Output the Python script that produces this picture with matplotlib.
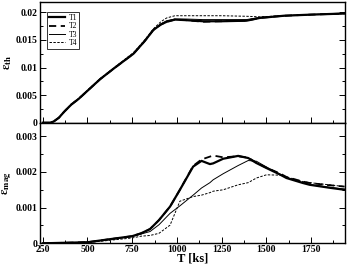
import matplotlib
matplotlib.use("Agg")
import matplotlib.pyplot as plt
from matplotlib.ticker import MultipleLocator

plt.rcParams['font.family'] = ['Liberation Serif', 'DejaVu Serif']
plt.rcParams['mathtext.fontset'] = 'stix'

# ---- upper panel: epsilon_th ----
T_th = [250, 290, 310, 340, 370, 410, 450, 571, 650, 757, 820, 868, 910, 943, 989, 1050, 1146, 1250, 1390, 1464, 1600, 1750, 1938]
th_T1 = [0.0, 0.0, 0.0002, 0.0009, 0.0020, 0.0033, 0.0043, 0.0079, 0.0099, 0.0125, 0.0148, 0.0168, 0.0178, 0.0183, 0.0187, 0.0186, 0.0184, 0.0184, 0.0185, 0.0190, 0.0194, 0.0196, 0.0198]
th_T2 = [0.0, 0.0, 0.0002, 0.0009, 0.0020, 0.0033, 0.0043, 0.0079, 0.0099, 0.0125, 0.0148, 0.0168, 0.0178, 0.0183, 0.0187, 0.0186, 0.0183, 0.0184, 0.0185, 0.0190, 0.0194, 0.0196, 0.0198]
th_T3 = [0.0, 0.0, 0.0002, 0.0009, 0.0020, 0.0033, 0.0043, 0.0079, 0.0099, 0.0125, 0.0148, 0.0168, 0.0179, 0.0185, 0.0188, 0.0188, 0.0187, 0.0187, 0.0187, 0.0191, 0.0194, 0.0196, 0.0198]
th_T4 = [0.0, 0.0, 0.0002, 0.0009, 0.0021, 0.0034, 0.0044, 0.0080, 0.0100, 0.0127, 0.0150, 0.0170, 0.0183, 0.0190, 0.0194, 0.0194, 0.0194, 0.0194, 0.0193, 0.0192, 0.0194, 0.0196, 0.0198]

# ---- lower panel: epsilon_mag ----
T_mag = [250, 500, 750, 800, 850, 900, 962, 1017, 1091, 1138, 1185, 1203, 1259, 1343, 1399, 1445, 1501, 1576, 1613, 1705, 1743, 1850, 1938]
mag_T1 = [0.0, 0.00003, 0.00020, 0.00028, 0.00040, 0.00065, 0.00103, 0.00150, 0.00215, 0.00231, 0.00222, 0.00224, 0.00237, 0.00245, 0.00239, 0.00225, 0.00211, 0.00193, 0.00183, 0.00169, 0.00164, 0.00156, 0.00150]
mag_T2 = [0.0, 0.00003, 0.00020, 0.00028, 0.00040, 0.00065, 0.00103, 0.00150, 0.00217, 0.00235, 0.00243, 0.00246, 0.00241, 0.00244, 0.00240, 0.00226, 0.00212, 0.00196, 0.00186, 0.00173, 0.00169, 0.00163, 0.00159]
mag_T3 = [0.0, 0.00003, 0.00019, 0.00026, 0.00033, 0.00052, 0.00084, 0.00105, 0.00135, 0.00155, 0.00170, 0.00178, 0.00195, 0.00218, 0.00232, 0.00230, 0.00214, 0.00194, 0.00184, 0.00170, 0.00165, 0.00157, 0.00152]
mag_T4 = [0.0, 0.00002, 0.00015, 0.00020, 0.00022, 0.00028, 0.00051, 0.00118, 0.00131, 0.00135, 0.00142, 0.00146, 0.00150, 0.00164, 0.00170, 0.00183, 0.00192, 0.00191, 0.00186, 0.00173, 0.00170, 0.00164, 0.00159]

labels = ['T1', 'T2', 'T3', 'T4']
styles = [dict(ls='-', lw=1.6), dict(ls=(0, (4, 2.5)), lw=1.3), dict(ls='-', lw=0.7), dict(ls=(0, (2.5, 1.5)), lw=0.7)]

fig = plt.figure(figsize=(3.47, 2.66), dpi=100)
ax1 = fig.add_axes([0.114, 0.5387, 0.880, 0.454])
ax2 = fig.add_axes([0.114, 0.0853, 0.880, 0.4534], sharex=ax1)

for y, lab, st in zip([th_T1, th_T2, th_T3, th_T4], labels, styles):
    ax1.plot(T_th, y, color='black', label=lab, **st)
for y, lab, st in zip([mag_T1, mag_T2, mag_T3, mag_T4], labels, styles):
    ax2.plot(T_mag, y, color='black', label=lab, **st)

ax1.set_xlim(232, 1940)
ax1.set_ylim(0, 0.0219)
ax2.set_ylim(0, 0.00338)

for ax in (ax1, ax2):
    ax.xaxis.set_major_locator(MultipleLocator(250))
    ax.xaxis.set_minor_locator(MultipleLocator(125))
    ax.tick_params(which='both', direction='in', right=True, top=False, labelsize=7, width=0.7, pad=1.5)
    ax.tick_params(which='major', length=4)
    ax.tick_params(which='minor', length=2)
    for s in ax.spines.values():
        s.set_linewidth(1.0)

ax1.yaxis.set_minor_locator(MultipleLocator(0.0025))
ax2.yaxis.set_minor_locator(MultipleLocator(0.0005))
ax1.set_yticks([0, 0.005, 0.01, 0.015, 0.02])
ax1.set_yticklabels(['0', '0.005', '0.01', '0.015', '0.02'], fontweight='bold', fontsize=7)
ax2.set_yticks([0, 0.001, 0.002, 0.003])
ax2.set_yticklabels(['0', '0.001', '0.002', '0.003'], fontweight='bold', fontsize=7)
plt.setp(ax1.get_xticklabels(), visible=False)
ax2.set_xticks([250, 500, 750, 1000, 1250, 1500, 1750])
ax2.set_xticklabels(['250', '500', '750', '1000', '1250', '1500', '1750'], fontweight='bold', fontsize=7)
ax2.tick_params(axis='x', pad=1)

ax1.set_ylabel(r'$\mathbf{\epsilon}_{\mathbf{th}}$', fontsize=9)
ax2.set_ylabel(r'$\mathbf{\epsilon}_{\mathbf{mag}}$', fontsize=9)
ax1.yaxis.set_label_coords(-0.085, 0.5)
ax2.yaxis.set_label_coords(-0.085, 0.5)
ax2.set_xlabel('T [ks]', fontweight='bold', fontsize=9, labelpad=0)
ax2.xaxis.set_label_coords(0.5, -0.075)

leg = ax1.legend(loc='upper left', bbox_to_anchor=(0.025, 0.92), fontsize=5.5, frameon=True,
                 fancybox=False, edgecolor='black', handlelength=2.0, labelspacing=0.05,
                 borderpad=0.3, handletextpad=0.5, borderaxespad=0)
leg.get_frame().set_linewidth(0.7)

fig.savefig('out.png', dpi=100)
